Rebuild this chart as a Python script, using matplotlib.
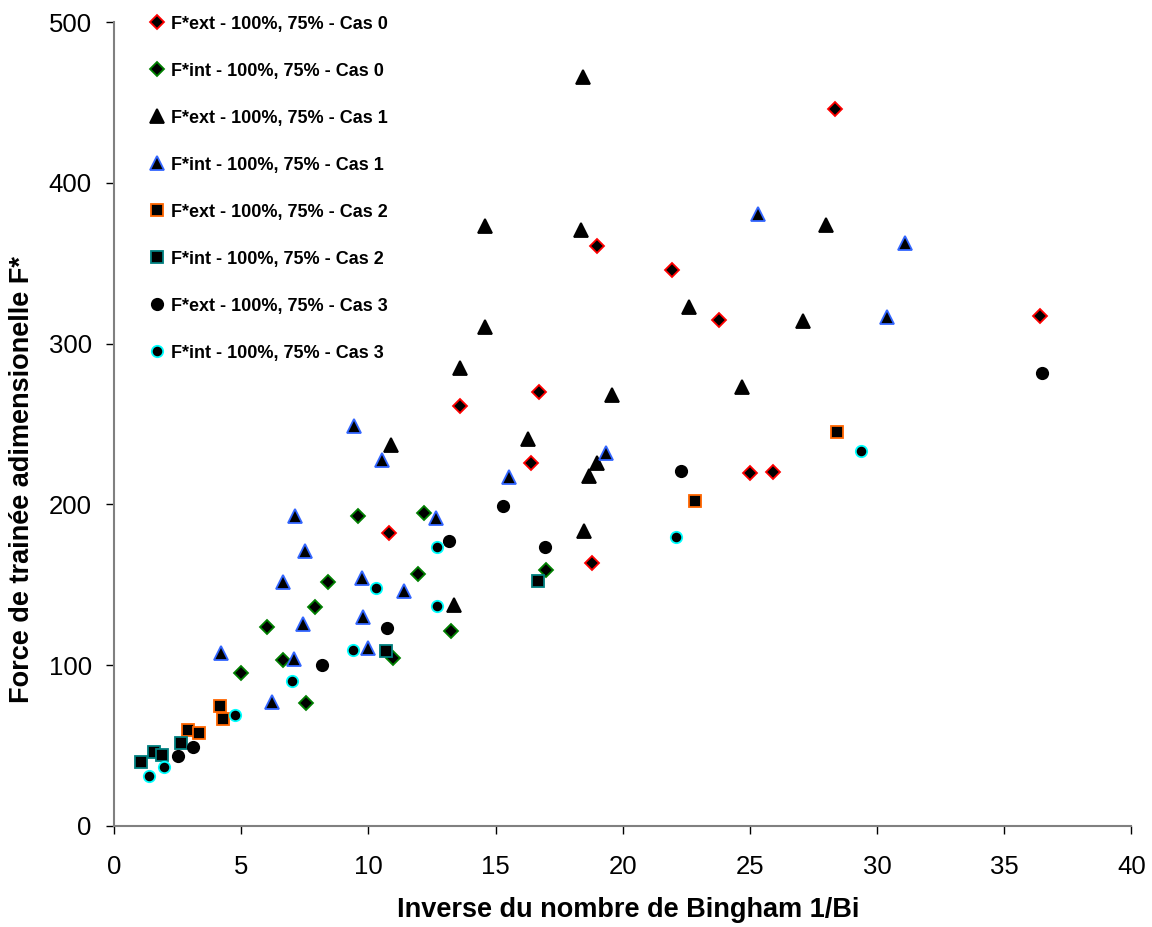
import matplotlib
matplotlib.use("Agg")
from matplotlib import pyplot as plt

plt.rcParams['font.family'] = ['Liberation Sans', 'DejaVu Sans']

# data: 1/Bi and F*
ext0_x = [10.8, 13.6, 16.4, 16.7, 18.8, 19.0, 21.95, 23.8, 25.0, 25.9, 28.35, 36.4]
ext0_y = [182, 261, 226, 270, 163.5, 361, 346, 315, 219.5, 220, 446, 317]

int0_x = [5.0, 6.0, 6.65, 7.55, 7.9, 8.4, 9.6, 10.95, 11.95, 12.2, 13.25, 17.0]
int0_y = [95, 124, 103, 76.5, 136, 152, 193, 104.5, 157, 195, 121, 159]

ext1_x = [10.87, 13.35, 13.6, 14.57, 14.6, 16.26, 18.37, 18.44, 18.46, 18.66, 18.98,
          19.57, 22.6, 24.69, 27.1, 28.0]
ext1_y = [237, 137.5, 285, 310.5, 373, 240.7, 371, 466, 183.5, 218, 226,
          268, 323, 273, 314, 374]

int1_x = [4.21, 6.22, 6.65, 7.09, 7.13, 7.44, 7.52, 9.45, 9.76, 9.8, 10.0, 10.55,
          11.38, 12.64, 15.51, 19.33, 25.3, 30.4, 31.1]
int1_y = [107.6, 77, 152, 104, 193, 125.6, 171, 249, 154, 130, 111, 227.6,
          146, 191.5, 217, 232, 381, 316.5, 362.5]

ext2_x = [2.91, 3.35, 4.17, 4.29, 22.83, 28.43]
ext2_y = [59.7, 57.8, 74.6, 66.6, 202, 245]

int2_x = [1.06, 1.57, 1.89, 2.64, 10.7, 16.65]
int2_y = [39.8, 46, 44.2, 51.6, 108.8, 152.4]

ext3_x = [2.52, 3.11, 8.19, 10.74, 13.15, 15.3, 16.93, 22.3, 36.5]
ext3_y = [43.5, 49, 100, 123, 177, 199, 173.5, 220.6, 282]

int3_x = [1.38, 1.97, 4.76, 7.0, 9.41, 10.28, 12.7, 12.7, 22.1, 29.35]
int3_y = [31, 36.5, 69, 90, 109.5, 148, 173.6, 137, 180, 233]

series = [
    (ext0_x, ext0_y, 'D', '#FF0000', 7.5, "F*ext - 100%, 75% - Cas 0"),
    (int0_x, int0_y, 'D', '#008000', 7.5, "F*int - 100%, 75% - Cas 0"),
    (ext1_x, ext1_y, '^', '#000000', 9.5, "F*ext - 100%, 75% - Cas 1"),
    (int1_x, int1_y, '^', '#3366FF', 9.5, "F*int - 100%, 75% - Cas 1"),
    (ext2_x, ext2_y, 's', '#FF6600', 8.3, "F*ext - 100%, 75% - Cas 2"),
    (int2_x, int2_y, 's', '#008080', 8.3, "F*int - 100%, 75% - Cas 2"),
    (ext3_x, ext3_y, 'o', '#000000', 8.2, "F*ext - 100%, 75% - Cas 3"),
    (int3_x, int3_y, 'o', '#00FFFF', 8.2, "F*int - 100%, 75% - Cas 3"),
]

fig = plt.figure(figsize=(11.52, 9.27), dpi=100)
ax = fig.add_axes([0.099, 0.109, 0.8832, 0.867])

for xs, ys, m, ec, ms, lab in series:
    ax.plot(xs, ys, linestyle='none', marker=m, markersize=ms,
            markerfacecolor='black', markeredgecolor=ec, markeredgewidth=1.3,
            label=lab, clip_on=False)

ax.set_xlim(0, 40)
ax.set_ylim(0, 500)
ax.set_xticks(range(0, 41, 5))
ax.set_yticks(range(0, 501, 100))

for s in ['top', 'right']:
    ax.spines[s].set_visible(False)
for s in ['left', 'bottom']:
    ax.spines[s].set_color('#808080')
    ax.spines[s].set_linewidth(1.5)
ax.tick_params(direction='out', length=6, width=1, color='black',
               labelsize=18.5)
ax.tick_params(axis='x', pad=15)
ax.tick_params(axis='y', pad=10)

# axis titles placed in figure coords
fig.text(628 / 1152, 1 - 910 / 927, "Inverse du nombre de Bingham 1/Bi",
         fontsize=19.5, fontweight='bold', ha='center', va='center')
fig.text(22 / 1152, 1 - 480 / 927, "Force de trainée adimensionelle F*",
         fontsize=19.5, fontweight='bold', ha='center', va='center', rotation=90)

leg = ax.legend(loc='upper left', bbox_to_anchor=(0.028, 1.017), frameon=False,
                prop={'weight': 'bold', 'size': 13}, labelspacing=1.66,
                handlelength=0.8, handletextpad=0.35, borderaxespad=0)

fig.savefig("out.png", dpi=100)
